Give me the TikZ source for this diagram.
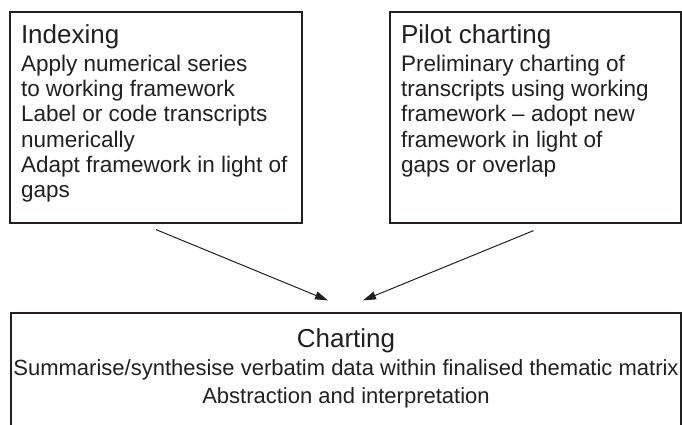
\documentclass[tikz,border=0pt]{standalone}
\usepackage{fontspec}
\setmainfont{Liberation Sans}
\usepackage{xcolor}
\usetikzlibrary{positioning,calc,arrows.meta}
\definecolor{ink}{HTML}{231F20}
\newcommand{\titlesize}{\fontsize{26}{26}\selectfont}
\newcommand{\bodysize}{\fontsize{22.5}{25.3}\selectfont}

\begin{document}
\begin{tikzpicture}[x=1pt,y=-1pt,
    box/.style={draw=ink, line width=1.2pt, inner xsep=11pt, inner ysep=6pt, text=ink},
    arr/.style={draw=ink, line width=1pt, -{Triangle[length=13pt,width=8pt]}}]
    \useasboundingbox (0,0) rectangle (682,424);

    % Indexing
    \node[box] (index) at (156,117.5) {\parbox[c][199pt][t]{270pt}{\raggedright
        \titlesize\rule{0pt}{25pt}Indexing\par\vspace{3pt}
        \bodysize Apply numerical series\\to working framework\\Label or code transcripts\\numerically\\Adapt framework in light of\\gaps}};

    % Pilot charting
    \node[box] (pilot) at (535.5,117.5) {\parbox[c][199pt][t]{269pt}{\raggedright
        \titlesize\rule{0pt}{25pt}Pilot charting\par\vspace{3pt}
        \bodysize Preliminary charting of\\transcripts using working\\framework -- adopt new\\framework in light of\\gaps or overlap}};

    % Charting
    \node[box, inner xsep=2pt] (chart) at (346,376.5) {\parbox[c][115pt][t]{666pt}{\centering
        \titlesize\rule{0pt}{28pt}Charting\par
        \fontsize{22}{28}\selectfont Summarise/synthesise verbatim data within finalised thematic matrix\\Abstraction and interpretation}};

    % Arrows
    \draw[arr] ([yshift=-6pt]index.south) -- ([xshift=-18pt,yshift=12pt]chart.north);
    \draw[arr] ([xshift=-2pt,yshift=-7pt]pilot.south) -- ([xshift=17pt,yshift=12pt]chart.north);
\end{tikzpicture}
\end{document}
